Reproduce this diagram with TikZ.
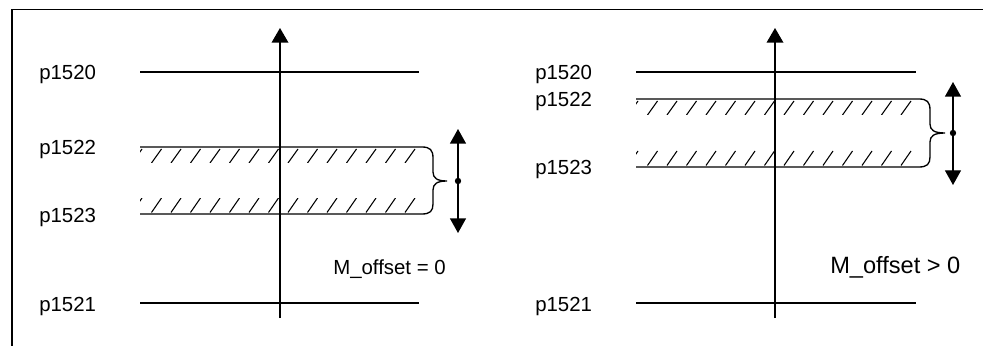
\documentclass[tikz,border=0pt]{standalone}
\usepackage{fontspec}
\setmainfont{Liberation Sans}
\usetikzlibrary{arrows.meta}

\tikzset{
  level/.style={line width=1pt},
  hatchline/.style={line width=0.8pt},
  axis/.style={line width=1pt,-{Triangle[width=12.5pt,length=11pt]}},
  offsetarrow/.style={line width=1pt,{Triangle[width=12pt,length=11pt]}-{Triangle[width=12pt,length=11pt]}},
  plabel/.style={anchor=base west,inner sep=0pt,font=\fontsize{15.3}{18}\selectfont},
}

% hatched strip: left x, top y, right x, bottom y
\newcommand{\hatchstrip}[4]{%
  \begin{scope}
    \clip (#1,#2) rectangle (#3,#4);
    \foreach \k in {0,...,15}
      \draw [hatchline] ({#1-8+\k*19.5},#4) -- ++(10,{#2-#4});
  \end{scope}}

\begin{document}
\begin{tikzpicture}[x=0.75pt,y=0.75pt,yscale=-1,xscale=1]
\useasboundingbox (0,0) rectangle (983,346);
% frame
\draw [line width=1.4pt] (12,346) -- (12,9.5) -- (983,9.5);

% ---- left part: M_offset = 0
\coordinate (aL0) at (280,318);
\coordinate (aL1) at (280,28);
\draw [axis] (aL0) -- (aL1);
\draw [level] (140,72) -- (419,72);
\draw [level] (140,303) -- (419,303);
\hatchstrip{140}{149}{419}{163}
\hatchstrip{140}{198}{419}{212.5}
\draw [level] (140,147) -- (422,147) .. controls (430,147) and (433,150) .. (433,158) -- (433,172)
      .. controls (433,178) and (437,181) .. (447,181)
      .. controls (437,181) and (433,184) .. (433,190) -- (433,204)
      .. controls (433,211) and (430,214) .. (422,214) -- (140,214);
\coordinate (sL0) at (458,129);
\coordinate (sL1) at (458,233);
\draw [offsetarrow] (sL0) -- (sL1);
\fill (458,181) circle (3.2);
\node [plabel] (l1520) at (39,80) {p1520};
\node [plabel] (l1522) at (39,155) {p1522};
\node [plabel] (l1523) at (39,222) {p1523};
\node [plabel] (l1521) at (39,311) {p1521};
\node [plabel] (offL) at (333,274) {M\_offset = 0};

% ---- right part: M_offset > 0
\coordinate (aR0) at (775,318);
\coordinate (aR1) at (775,28);
\draw [axis] (aR0) -- (aR1);
\draw [level] (636,72) -- (916,72);
\draw [level] (636,303) -- (916,303);
\hatchstrip{636}{101}{916}{115}
\hatchstrip{636}{151}{916}{165.5}
\draw [level] (636,99) -- (919,99) .. controls (927,99) and (930,102) .. (930,110) -- (930,124)
      .. controls (930,130) and (934,133) .. (945,133)
      .. controls (934,133) and (930,136) .. (930,142) -- (930,157)
      .. controls (930,164) and (927,167) .. (919,167) -- (636,167);
\coordinate (sR0) at (953,82);
\coordinate (sR1) at (953,185);
\draw [offsetarrow] (sR0) -- (sR1);
\fill (953,133) circle (3.2);
\node [plabel] (r1520) at (535,80) {p1520};
\node [plabel] (r1522) at (535,107) {p1522};
\node [plabel] (r1523) at (535,175) {p1523};
\node [plabel] (r1521) at (535,311) {p1521};
\node [plabel,font=\fontsize{17.7}{20}\selectfont] (offR) at (830,273) {M\_offset > 0};
\end{tikzpicture}
\end{document}
